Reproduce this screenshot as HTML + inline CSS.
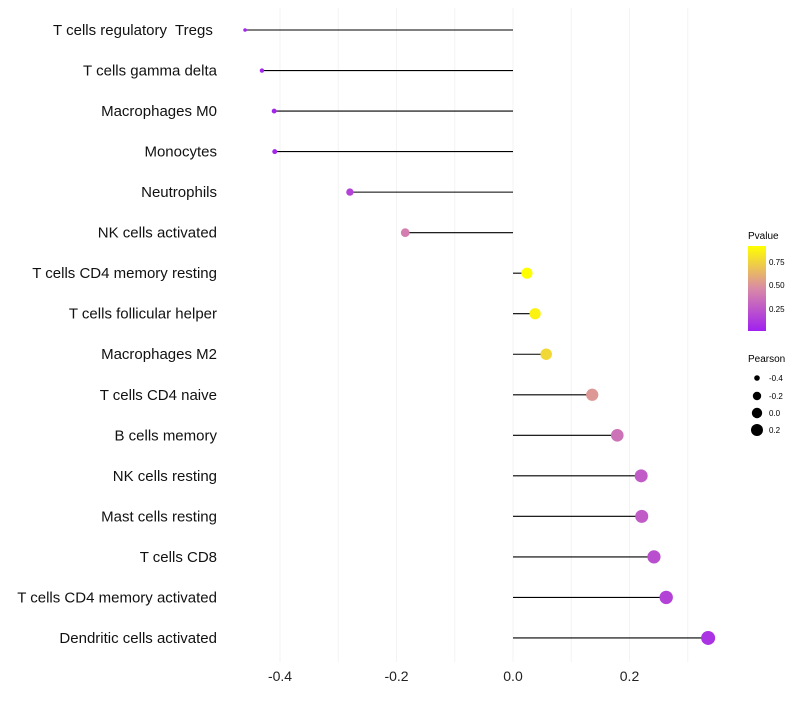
<!DOCTYPE html>
<html><head><meta charset="utf-8"><style>
body{margin:0;background:#fff;font-family:"Liberation Sans",sans-serif}
</style></head><body>
<svg id="chart" width="800" height="700" xmlns="http://www.w3.org/2000/svg" font-family="Liberation Sans, sans-serif">
<defs><linearGradient id="pg" x1="0" y1="1" x2="0" y2="0">
<stop offset="0" stop-color="#A020F0"/><stop offset="0.5" stop-color="#D98AA6"/><stop offset="1" stop-color="#FFFF00"/></linearGradient></defs>
<g id="grid"></g><g id="marks"></g><g id="labels"></g>
<g>
<text x="748" y="239" font-size="10">Pvalue</text>
<rect x="748" y="246" width="18" height="85" fill="url(#pg)"/>
<text x="769" y="265" font-size="8">0.75</text>
<text x="769" y="288" font-size="8">0.50</text>
<text x="769" y="312" font-size="8">0.25</text>
</g>
<g>
<text x="748" y="362" font-size="10">Pearson</text>
<circle cx="757" cy="378" r="2.8"/><text x="769" y="381" font-size="8">-0.4</text>
<circle cx="757" cy="396" r="4.2"/><text x="769" y="399" font-size="8">-0.2</text>
<circle cx="757" cy="413" r="5.2"/><text x="769" y="416" font-size="8">0.0</text>
<circle cx="757" cy="430" r="6"/><text x="769" y="433" font-size="8">0.2</text>
</g>
</svg>
<script>
const categories=["T cells regulatory  Tregs ","T cells gamma delta","Macrophages M0","Monocytes","Neutrophils","NK cells activated","T cells CD4 memory resting","T cells follicular helper","Macrophages M2","T cells CD4 naive","B cells memory","NK cells resting","Mast cells resting","T cells CD8","T cells CD4 memory activated","Dendritic cells activated"];
const pearson=[-0.46,-0.431,-0.41,-0.409,-0.28,-0.185,0.024,0.038,0.057,0.136,0.179,0.22,0.221,0.242,0.263,0.335];
const pvalues=[0.02,0.02,0.02,0.03,0.15,0.4,0.9,0.85,0.75,0.5,0.35,0.25,0.25,0.2,0.15,0.08];
const xTicks=[-0.4,-0.2,0.0,0.2];
const ns="http://www.w3.org/2000/svg";
const X=v=>513+v*582.5;
const Y=i=>30+i*40.53;
function col(p){const t=Math.max(0,Math.min(1,(p-0)/0.9));
 const s=[[160,32,240],[217,138,166],[255,255,0]];
 let a,b,u;if(t<0.5){a=s[0];b=s[1];u=t/0.5}else{a=s[1];b=s[2];u=(t-0.5)/0.5}
 return `rgb(${a.map((c,k)=>Math.round(c+(b[k]-c)*u)).join(',')})`;}
function rad(v){return Math.sqrt(Math.max(1,3.2+(v+0.46)*57.6));}
function mk(tag,at,parent){const e=document.createElementNS(ns,tag);for(const k in at)e.setAttribute(k,at[k]);document.getElementById(parent).appendChild(e);return e;}
for(let v=-0.4;v<=0.31;v+=0.1){const g=mk('line',{x1:X(v),x2:X(v),y1:8,y2:662,stroke:'#f3f3f3','stroke-width':1},'grid');

}
xTicks.forEach(t=>{const e=mk('text',{x:X(t),y:681,'font-size':14,'text-anchor':'middle',fill:'#222'},'labels');e.textContent=t.toFixed(1);

});
categories.forEach((c,i)=>{
 const t=mk('text',{x:217,y:Y(i)+5,'font-size':15,'text-anchor':'end',fill:'#111'},'labels');t.textContent=c;
 t.setAttribute('xml:space','preserve');t.style.whiteSpace='pre';
 
 
 const l=mk('line',{x1:X(0),x2:X(pearson[i]),y1:Y(i),y2:Y(i),stroke:'#000','stroke-width':1.1},'marks');
 
 
 const p=mk('circle',{cx:X(pearson[i]),cy:Y(i),r:rad(pearson[i]),fill:col(pvalues[i])},'marks');
 
 
});
</script>
</body></html>
